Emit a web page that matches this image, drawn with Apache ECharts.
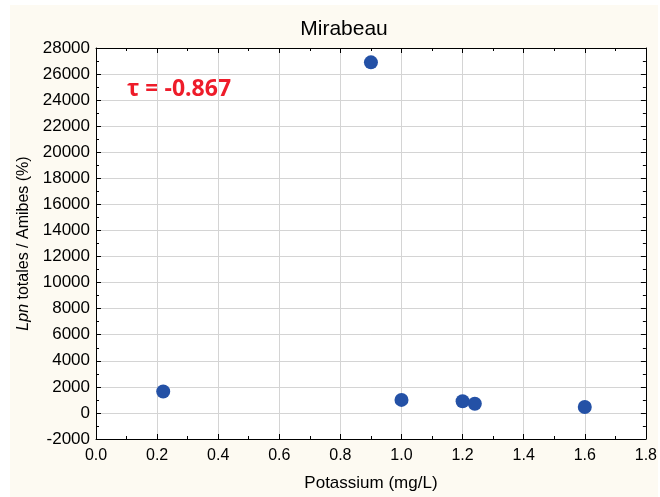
<!DOCTYPE html>
<html>
<head>
<meta charset="utf-8">
<script src="https://cdn.jsdelivr.net/npm/echarts@6/dist/echarts.min.js"></script>
<style>
  html, body { margin: 0; padding: 0; background: #ffffff; }
  #panel { position: absolute; left: 10px; top: 5px; width: 648px; height: 492px; background: #fdfaf2; }
  #chart { position: absolute; left: 0; top: 0; width: 660px; height: 497px; }
</style>
</head>
<body>
<div id="panel"></div>
<div id="chart"></div>
<script>
// Potassium concentration (mg/L) vs Lpn totales / Amibes (%) at Mirabeau
const potassium = [0.22, 0.90, 1.00, 1.20, 1.24, 1.60];
const lpnRatio  = [1650, 26900, 1000, 900, 700, 450];
const tauLabel = 'τ = -0.867';
const chartTitle = 'Mirabeau';
const xName = 'Potassium (mg/L)';

const points = potassium.map((k, i) => [k, lpnRatio[i]]);

const FONT = '"Liberation Sans", Arial, sans-serif';
const chart = echarts.init(document.getElementById('chart'));

const tickStyle = { show: true, inside: true, length: 5, lineStyle: { color: '#000', width: 1 } };
const minorStyle = { show: true, splitNumber: 2, length: 3, lineStyle: { color: '#000', width: 1 } };

chart.setOption({
  animation: false,
  backgroundColor: 'transparent',
  title: {
    text: chartTitle,
    left: 339, top: 14, textAlign: 'center',
    textStyle: { fontFamily: FONT, fontSize: 21, fontWeight: 'normal', color: '#000' }
  },
  grid: { left: 96, top: 48, right: 10.5, bottom: 58, show: true, backgroundColor: '#ffffff', borderWidth: 0 },
  xAxis: [{
    type: 'value', min: 0, max: 1.8, interval: 0.2, position: 'bottom',
    name: xName, nameLocation: 'middle', nameGap: 36,
    nameTextStyle: { fontFamily: FONT, fontSize: 17, color: '#000' },
    axisLine: { show: true, onZero: false, lineStyle: { color: '#000', width: 1 } },
    axisTick: tickStyle, minorTick: minorStyle,
    axisLabel: { fontFamily: FONT, fontSize: 16, color: '#000', margin: 9, formatter: v => v.toFixed(1) },
    splitLine: { show: true, lineStyle: { color: '#d4d4d4', width: 1 } }
  }, {
    type: 'value', min: 0, max: 1.8, interval: 0.2, position: 'top',
    axisLine: { show: true, onZero: false, lineStyle: { color: '#000', width: 1 } },
    axisTick: tickStyle, minorTick: minorStyle,
    axisLabel: { show: false }, splitLine: { show: false }
  }],
  yAxis: [{
    type: 'value', min: -2000, max: 28000, interval: 2000, position: 'left',
    name: '{it|Lpn} totales / Amibes (%)', nameLocation: 'middle', nameGap: 56, nameRotate: 90,
    nameTextStyle: {
      fontFamily: FONT, fontSize: 16, color: '#000',
      rich: { it: { fontFamily: FONT, fontSize: 16, fontStyle: 'italic', color: '#000' } }
    },
    axisLine: { show: true, onZero: false, lineStyle: { color: '#000', width: 1 } },
    axisTick: tickStyle, minorTick: minorStyle,
    axisLabel: { fontFamily: FONT, fontSize: 17, color: '#000', margin: 6, formatter: v => String(v) },
    splitLine: { show: true, lineStyle: { color: '#d4d4d4', width: 1 } }
  }, {
    type: 'value', min: -2000, max: 28000, interval: 2000, position: 'right',
    axisLine: { show: true, onZero: false, lineStyle: { color: '#000', width: 1 } },
    axisTick: tickStyle, minorTick: minorStyle,
    axisLabel: { show: false }, splitLine: { show: false }
  }],
  graphic: [{
    type: 'text', x: 127, y: 89,
    style: { text: tauLabel, fill: '#ee1c2a', font: 'bold 23px "Open Sans", Lato, sans-serif', verticalAlign: 'middle' }
  }],
  series: [{
    type: 'scatter', xAxisIndex: 0, yAxisIndex: 0,
    data: points, symbol: 'circle', symbolSize: 14,
    itemStyle: { color: '#2451a6', opacity: 1 }
  }]
});
</script>
</body>
</html>
